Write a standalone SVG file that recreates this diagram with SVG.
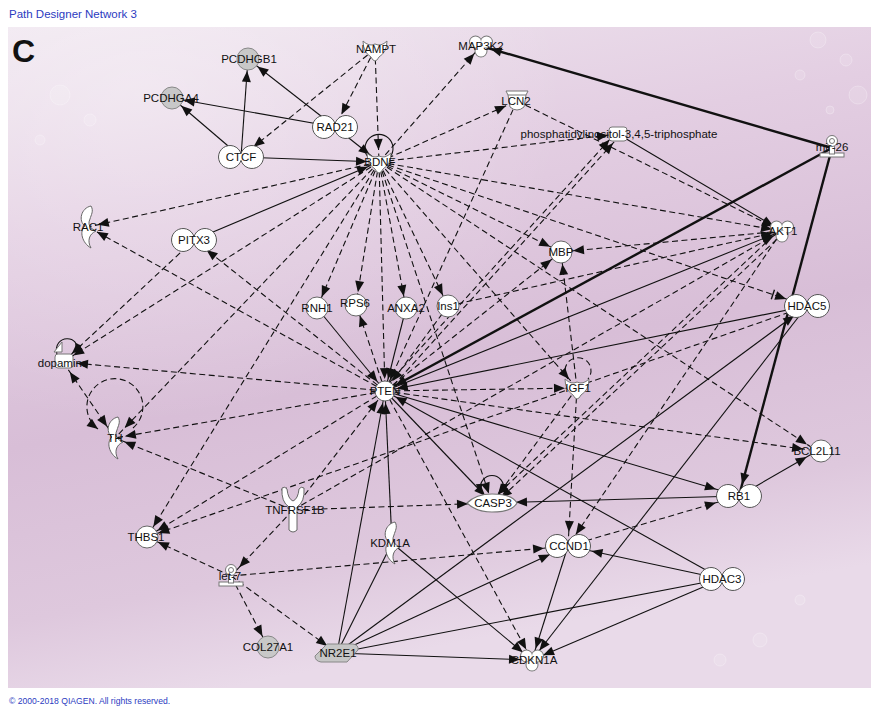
<svg xmlns="http://www.w3.org/2000/svg" width="871" height="706" viewBox="0 0 871 706">
<defs>
<linearGradient id="bg" x1="0" y1="0" x2="0.25" y2="1">
<stop offset="0" stop-color="#efe5ef"/>
<stop offset="0.3" stop-color="#e3cee2"/>
<stop offset="0.6" stop-color="#d8bed7"/>
<stop offset="0.85" stop-color="#dec8dd"/>
<stop offset="1" stop-color="#e9dae9"/>
</linearGradient>
<radialGradient id="glow" cx="0.15" cy="0.1" r="0.5">
<stop offset="0" stop-color="#ffffff" stop-opacity="0.35"/>
<stop offset="1" stop-color="#ffffff" stop-opacity="0"/>
</radialGradient>
<marker id="a0" markerUnits="userSpaceOnUse" markerWidth="11" markerHeight="9" refX="11" refY="4.5" orient="auto" overflow="visible"><path d="M0,0L11,4.5L0,9Z" fill="#111"/></marker>
<marker id="a8" markerUnits="userSpaceOnUse" markerWidth="11" markerHeight="9" refX="19" refY="4.5" orient="auto" overflow="visible"><path d="M0,0L11,4.5L0,9Z" fill="#111"/></marker>
<marker id="a10" markerUnits="userSpaceOnUse" markerWidth="11" markerHeight="9" refX="21" refY="4.5" orient="auto" overflow="visible"><path d="M0,0L11,4.5L0,9Z" fill="#111"/></marker>
<marker id="a12" markerUnits="userSpaceOnUse" markerWidth="11" markerHeight="9" refX="23" refY="4.5" orient="auto" overflow="visible"><path d="M0,0L11,4.5L0,9Z" fill="#111"/></marker>
<marker id="a14" markerUnits="userSpaceOnUse" markerWidth="11" markerHeight="9" refX="25" refY="4.5" orient="auto" overflow="visible"><path d="M0,0L11,4.5L0,9Z" fill="#111"/></marker>
<marker id="a16" markerUnits="userSpaceOnUse" markerWidth="11" markerHeight="9" refX="27" refY="4.5" orient="auto" overflow="visible"><path d="M0,0L11,4.5L0,9Z" fill="#111"/></marker>
<marker id="a20" markerUnits="userSpaceOnUse" markerWidth="11" markerHeight="9" refX="31" refY="4.5" orient="auto" overflow="visible"><path d="M0,0L11,4.5L0,9Z" fill="#111"/></marker>
<marker id="a24" markerUnits="userSpaceOnUse" markerWidth="11" markerHeight="9" refX="35" refY="4.5" orient="auto" overflow="visible"><path d="M0,0L11,4.5L0,9Z" fill="#111"/></marker>
<marker id="s12" markerUnits="userSpaceOnUse" markerWidth="11" markerHeight="9" refX="23" refY="4.5" orient="auto-start-reverse" overflow="visible"><path d="M0,0L11,4.5L0,9Z" fill="#111"/></marker>
<marker id="sm" markerUnits="userSpaceOnUse" markerWidth="8" markerHeight="7" refX="8" refY="3.5" orient="auto-start-reverse" overflow="visible"><path d="M0,0L8,3.5L0,7Z" fill="#111"/></marker>
<marker id="ab" markerUnits="userSpaceOnUse" markerWidth="11" markerHeight="9" refX="33" refY="4.5" orient="auto" overflow="visible"><path d="M0,0L11,4.5L0,9Z" fill="#111"/><path d="M-3,-0.5V9.5" stroke="#111" stroke-width="1.4"/></marker>

<circle id="circ" r="11" fill="#fff" stroke="#666" stroke-width="1"/>
<circle id="gcirc" r="11" fill="#c8c8c8" stroke="#888" stroke-width="1"/>
<circle id="phos" r="10" fill="#fff" stroke="#666" stroke-width="1"/>
<path id="tr" d="M0,-3.4A11.5,11.5 0 1 1 0,3.4A11.5,11.5 0 1 1 0,-3.4Z" fill="#fff" stroke="#555" stroke-width="1"/>
<g id="kin"><g fill="#fff" stroke="#777" stroke-width="2"><circle cx="-5.5" cy="-4" r="5.5"/><circle cx="5.5" cy="-4" r="5.5"/><circle cx="0" cy="5" r="5.5"/></g><g fill="#fff"><circle cx="-5.5" cy="-4" r="5.5"/><circle cx="5.5" cy="-4" r="5.5"/><circle cx="0" cy="5" r="5.5"/></g></g>
<path id="gf" d="M-12,-9Q-6,-3 0,-6Q6,-3 12,-9Q12,2 4,7Q2,11 0,11Q-2,11 -4,7Q-12,2 -12,-9Z" fill="#fff" stroke="#777" stroke-width="1"/>
<path id="enz" d="M3,-21C-7,-19 -10,-6 -3,-1C-9,4 -6,16 3,21C-1,14 1,7 8,4C3,2 -1,-2 2,-8C3,-12 6,-16 3,-21Z" fill="#fff" stroke="#666" stroke-width="1"/>
<g id="trp" fill="#fff" stroke="#777" stroke-width="1"><path d="M-11,-10L11,-10L9,-6L7,6Q0,12 -7,6L-9,-6Z"/><path d="M-9,-6L9,-6" fill="none"/></g>
<rect id="chem" x="-9" y="-7" width="18" height="14" rx="3" fill="#fff" stroke="#777" stroke-width="1"/>
<g id="mir" fill="#fff" stroke="#777" stroke-width="1"><rect x="-12" y="6" width="24" height="4"/><rect x="-2.5" y="-2" width="5" height="9"/><circle cy="-6" r="5.5"/><circle cy="-6" r="2.5"/></g>
<path id="rec" d="M-11,-22Q-12,-8 -4,-3L-4,20Q0,24 4,20L4,-3Q12,-8 11,-22Q8,-24 6,-21Q5,-11 0,-9Q-5,-11 -6,-21Q-8,-24 -11,-22Z" fill="#fff" stroke="#666" stroke-width="1"/>
<path id="pep" d="M-25,0Q-16,-9 0,-9Q20,-9 25,0Q20,9 0,9Q-16,9 -25,0Z" fill="#fff" stroke="#777" stroke-width="1.2"/>
<path id="nr" d="M-22,3L-10,-9L16,-9Q22,-8 21,-3L10,9L-16,9Q-22,8 -22,3Z" fill="#c6c6c6" stroke="#888" stroke-width="1"/>
</defs>
<style>
.s{stroke:#111;stroke-width:1.1;fill:none}
.d{stroke:#111;stroke-width:1.1;stroke-dasharray:6 3.5;fill:none}
.b{stroke:#111;stroke-width:2.4;fill:none}
.lb{font-family:"Liberation Sans",Arial,sans-serif;font-size:11.5px;fill:#111;text-anchor:middle}
.hd{font-family:"Liberation Sans",Arial,sans-serif;fill:#2b3bbf}
</style>

<rect x="0" y="0" width="871" height="706" fill="#fff"/>
<rect x="8" y="27" width="863" height="661" fill="url(#bg)"/>
<rect x="8" y="27" width="863" height="661" fill="url(#glow)"/>
<g fill="#fff" fill-opacity="0.12" stroke="#fff" stroke-opacity="0.25">
<circle cx="818" cy="40" r="8"/><circle cx="846" cy="60" r="6"/><circle cx="800" cy="75" r="5"/><circle cx="858" cy="95" r="9"/><circle cx="830" cy="110" r="4"/><circle cx="60" cy="95" r="10"/><circle cx="90" cy="120" r="6"/><circle cx="40" cy="140" r="5"/><circle cx="760" cy="640" r="7"/><circle cx="800" cy="600" r="5"/><circle cx="720" cy="660" r="6"/>
</g>

<text class="hd" x="9" y="18" font-size="11.5">Path Designer Network 3</text>
<text x="12" y="62" font-family="Liberation Sans,Arial,sans-serif" font-size="32" font-weight="bold" fill="#111">C</text>
<text class="hd" x="9" y="704" font-size="8.6">© 2000-2018 QIAGEN. All rights reserved.</text>

<g id="connectors">
<line class="s" x1="335" y1="127" x2="248" y2="59" marker-end="url(#a12)"/>
<line class="s" x1="241" y1="157" x2="248" y2="59" marker-end="url(#a12)"/>
<line class="s" x1="241" y1="157" x2="172" y2="98" marker-end="url(#a12)"/>
<line class="s" x1="335" y1="127" x2="172" y2="98" marker-end="url(#a12)"/>
<line class="d" x1="375" y1="49" x2="241" y2="157" marker-end="url(#a16)"/>
<line class="d" x1="375" y1="49" x2="335" y2="127" marker-end="url(#a14)"/>
<line class="d" x1="375" y1="49" x2="379" y2="162" marker-end="url(#a12)"/>
<line class="s" x1="335" y1="127" x2="379" y2="162" marker-end="url(#a12)"/>
<line class="s" x1="241" y1="157" x2="379" y2="162" marker-end="url(#a12)"/>
<line class="s" x1="194" y1="240" x2="379" y2="162" marker-end="url(#a12)"/>
<line class="d" x1="379" y1="162" x2="481" y2="46" marker-end="url(#a10)"/>
<line class="d" x1="379" y1="162" x2="517" y2="101" marker-end="url(#a12)"/>
<line class="d" x1="379" y1="162" x2="618" y2="134" marker-end="url(#a10)"/>
<line class="b" x1="832" y1="148" x2="481" y2="46" marker-end="url(#a10)"/>
<line class="b" x1="832" y1="148" x2="385" y2="391" marker-end="url(#a12)"/>
<line class="b" x1="832" y1="148" x2="739" y2="496" marker-end="url(#a12)"/>
<line class="d" x1="517" y1="101" x2="782" y2="231" marker-end="url(#a10)"/>
<line class="s" x1="618" y1="134" x2="782" y2="231" marker-end="url(#a10)"/>
<line class="d" x1="383.2" y1="389.3" x2="616.2" y2="132.3" marker-end="url(#a10)"/>
<line class="d" x1="386.8" y1="392.7" x2="619.8" y2="135.7" marker-end="url(#a10)"/>
<line class="d" x1="517" y1="101" x2="385" y2="391" marker-end="url(#a12)"/>
<line class="d" x1="379" y1="162" x2="88" y2="227" marker-end="url(#a10)"/>
<line class="d" x1="379" y1="162" x2="63" y2="362" marker-end="url(#a12)"/>
<line class="d" x1="194" y1="240" x2="63" y2="362" marker-end="url(#a12)"/>
<line class="d" x1="379" y1="162" x2="115" y2="438" marker-end="url(#a14)"/>
<line class="d" x1="379" y1="162" x2="317" y2="308" marker-end="url(#a12)"/>
<line class="d" x1="379" y1="162" x2="356" y2="304" marker-end="url(#a12)"/>
<line class="d" x1="379" y1="162" x2="406" y2="308" marker-end="url(#a12)"/>
<line class="d" x1="379" y1="162" x2="448" y2="306" marker-end="url(#a12)"/>
<line class="d" x1="379" y1="162" x2="385" y2="391" marker-end="url(#a12)"/>
<line class="d" x1="379" y1="162" x2="561" y2="252" marker-end="url(#a12)"/>
<line class="d" x1="379" y1="162" x2="782" y2="231" marker-end="url(#a10)"/>
<line class="d" x1="379" y1="162" x2="807" y2="306" marker-end="url(#ab)"/>
<line class="d" x1="379" y1="162" x2="817" y2="451" marker-end="url(#a12)"/>
<line class="d" x1="379" y1="162" x2="577" y2="388" marker-end="url(#a12)"/>
<line class="d" x1="379" y1="162" x2="492" y2="503" marker-end="url(#a10)"/>
<line class="d" x1="379" y1="162" x2="147" y2="537" marker-end="url(#a12)"/>
<line class="d" x1="385" y1="391" x2="577" y2="388" marker-end="url(#a12)"/>
<line class="d" x1="385" y1="391" x2="63" y2="362" marker-end="url(#a14)"/>
<line class="d" x1="385" y1="391" x2="115" y2="438" marker-end="url(#a10)"/>
<line class="d" x1="385" y1="391" x2="88" y2="227" marker-end="url(#a10)"/>
<line class="d" x1="385" y1="391" x2="194" y2="240" marker-end="url(#a16)"/>
<line class="d" x1="385" y1="391" x2="147" y2="537" marker-end="url(#a12)"/>
<line class="d" x1="385" y1="391" x2="356" y2="304" marker-end="url(#a12)"/>
<line class="s" x1="317" y1="308" x2="385" y2="391" marker-end="url(#a12)"/>
<line class="s" x1="406" y1="308" x2="385" y2="391" marker-end="url(#a12)"/>
<line class="d" x1="448" y1="306" x2="385" y2="391" marker-end="url(#a12)"/>
<line class="s" x1="807" y1="306" x2="385" y2="391" marker-end="url(#a12)"/>
<line class="s" x1="722" y1="579" x2="385" y2="391" marker-end="url(#a12)"/>
<line class="s" x1="337" y1="653" x2="385" y2="391" marker-end="url(#a12)"/>
<line class="s" x1="392" y1="543" x2="385" y2="391" marker-end="url(#a12)"/>
<line class="d" x1="293" y1="510" x2="385" y2="391" marker-end="url(#a12)"/>
<line class="s" x1="385" y1="391" x2="492" y2="503" marker-end="url(#a10)"/>
<line class="d" x1="385" y1="391" x2="532" y2="660" marker-end="url(#a12)"/>
<line class="s" x1="385" y1="391" x2="739" y2="496" marker-end="url(#a24)"/>
<line class="s" x1="385" y1="391" x2="782" y2="231" marker-end="url(#a10)"/>
<line class="d" x1="385" y1="391" x2="561" y2="252" marker-end="url(#a12)"/>
<line class="d" x1="385" y1="391" x2="817" y2="451" marker-end="url(#a14)"/>
<line class="d" x1="448" y1="306" x2="782" y2="231" marker-end="url(#a10)"/>
<line class="d" x1="293" y1="510" x2="782" y2="231" marker-end="url(#a10)"/>
<line class="d" x1="782" y1="231" x2="561" y2="252" marker-end="url(#a12)"/>
<line class="d" x1="780.3" y1="229.2" x2="490.3" y2="501.2" marker-end="url(#a10)"/>
<line class="d" x1="783.7" y1="232.8" x2="493.7" y2="504.8" marker-end="url(#a10)"/>
<line class="d" x1="782" y1="231" x2="568" y2="546" marker-end="url(#a14)"/>
<line class="d" x1="577" y1="388" x2="561" y2="252" marker-end="url(#a12)"/>
<line class="d" x1="577" y1="388" x2="568" y2="546" marker-end="url(#a14)"/>
<line class="d" x1="577" y1="388" x2="492" y2="503" marker-end="url(#a10)"/>
<line class="d" x1="293" y1="510" x2="492" y2="503" marker-end="url(#a24)"/>
<line class="d" x1="293" y1="510" x2="231" y2="576" marker-end="url(#a12)"/>
<line class="d" x1="293" y1="510" x2="115" y2="438" marker-end="url(#a10)"/>
<line class="d" x1="231" y1="576" x2="147" y2="537" marker-end="url(#a12)"/>
<line class="d" x1="231" y1="576" x2="568" y2="546" marker-end="url(#a24)"/>
<line class="d" x1="231" y1="576" x2="268" y2="647" marker-end="url(#a12)"/>
<line class="d" x1="231" y1="576" x2="337" y2="653" marker-end="url(#a12)"/>
<line class="d" x1="807" y1="306" x2="147" y2="537" marker-end="url(#a12)"/>
<line class="s" x1="337" y1="653" x2="392" y2="543"/>
<line class="s" x1="337" y1="653" x2="568" y2="546" marker-end="url(#a20)"/>
<line class="s" x1="337" y1="653" x2="532" y2="660" marker-end="url(#a12)"/>
<line class="s" x1="337" y1="653" x2="807" y2="306" marker-end="url(#a16)"/>
<line class="s" x1="337" y1="653" x2="722" y2="579"/>
<line class="s" x1="392" y1="543" x2="532" y2="660" marker-end="url(#a12)"/>
<line class="s" x1="568" y1="546" x2="532" y2="660" marker-end="url(#a12)"/>
<line class="s" x1="722" y1="579" x2="568" y2="546" marker-end="url(#a24)"/>
<line class="s" x1="722" y1="579" x2="532" y2="660" marker-end="url(#a12)"/>
<line class="s" x1="807" y1="306" x2="532" y2="660" marker-end="url(#a12)"/>
<line class="d" x1="568" y1="546" x2="739" y2="496" marker-end="url(#a24)"/>
<line class="s" x1="739" y1="496" x2="492" y2="503" marker-end="url(#a24)"/>
<line class="s" x1="739" y1="496" x2="817" y2="451" marker-end="url(#a12)"/>
<line class="d" x1="63" y1="362" x2="115" y2="438" marker-start="url(#s12)" marker-end="url(#a14)"/>
<path class="s" d="M368,157A14,14 0 1 1 390,157"/>
<path class="d" d="M568,379A13,13 0 1 1 588,379"/>
<path class="s" d="M480,492C478,470 506,470 504,492" marker-start="url(#sm)" marker-end="url(#sm)"/>
<path class="d" d="M133,428A28,28 0 1 0 98,429" marker-end="url(#a0)"/>
<path class="s" d="M57,354C52,334 82,334 76,352" marker-end="url(#sm)"/>
</g>

<g id="node-PCDHGB1"><use href="#gcirc" x="248" y="59"/><text class="lb" x="249" y="63">PCDHGB1</text></g>
<g id="node-PCDHGA4"><use href="#gcirc" x="172" y="98"/><text class="lb" x="171" y="102">PCDHGA4</text></g>
<g id="node-NAMPT"><use href="#gf" x="375" y="50"/><text class="lb" x="376" y="53">NAMPT</text></g>
<g id="node-MAP3K2"><use href="#kin" x="481" y="46"/><text class="lb" x="481" y="50">MAP3K2</text></g>
<g id="node-LCN2"><use href="#trp" x="517" y="101"/><text class="lb" x="516" y="105">LCN2</text></g>
<g id="node-RAD21"><use href="#tr" x="335" y="127"/><text class="lb" x="335" y="131">RAD21</text></g>
<g id="node-CTCF"><use href="#tr" x="241" y="157"/><text class="lb" x="241" y="161">CTCF</text></g>
<g id="node-BDNF"><use href="#gf" x="379" y="162"/><text class="lb" x="380" y="166">BDNF</text></g>
<g id="node-PIP3"><use href="#chem" x="618" y="134"/><text class="lb" x="619" y="138">phosphatidylinositol-3,4,5-triphosphate</text></g>
<g id="node-mir26"><use href="#mir" x="832" y="147"/><text class="lb" x="832" y="151">mir-26</text></g>
<g id="node-RAC1"><use href="#enz" x="88" y="227"/><text class="lb" x="88" y="231">RAC1</text></g>
<g id="node-PITX3"><use href="#tr" x="194" y="240"/><text class="lb" x="194" y="244">PITX3</text></g>
<g id="node-AKT1"><use href="#kin" x="782" y="231"/><text class="lb" x="783" y="235">AKT1</text></g>
<g id="node-MBP"><use href="#circ" x="561" y="252"/><text class="lb" x="561" y="256">MBP</text></g>
<g id="node-RNH1"><use href="#circ" x="317" y="308"/><text class="lb" x="317" y="312">RNH1</text></g>
<g id="node-RPS6"><use href="#circ" x="356" y="305"/><text class="lb" x="355" y="307">RPS6</text></g>
<g id="node-ANXA2"><use href="#circ" x="406" y="308"/><text class="lb" x="406" y="312">ANXA2</text></g>
<g id="node-Ins1"><use href="#circ" x="448" y="306"/><text class="lb" x="448" y="310">Ins1</text></g>
<g id="node-HDAC5"><use href="#tr" x="807" y="306"/><text class="lb" x="807" y="310">HDAC5</text></g>
<g id="node-dopamine"><use href="#chem" x="64" y="361"/><path d="M54,352L62,342L62,352Z" fill="#fff" stroke="#777"/><text class="lb" x="63" y="367">dopamine</text></g>
<g id="node-PTEN"><use href="#phos" x="385" y="391"/><text class="lb" x="385" y="395">PTEN</text></g>
<g id="node-IGF1"><use href="#gf" x="577" y="388"/><text class="lb" x="578" y="392">IGF1</text></g>
<g id="node-TH"><use href="#enz" x="115" y="438"/><text class="lb" x="115" y="442">TH</text></g>
<g id="node-BCL2L11"><use href="#circ" x="821" y="451"/><text class="lb" x="817" y="455">BCL2L11</text></g>
<g id="node-TNFRSF1B"><use href="#rec" x="293" y="510"/><text class="lb" x="295" y="514">TNFRSF1B</text></g>
<g id="node-CASP3"><use href="#pep" x="492" y="503"/><text class="lb" x="493" y="507">CASP3</text></g>
<g id="node-RB1"><use href="#tr" x="739" y="496"/><text class="lb" x="739" y="500">RB1</text></g>
<g id="node-THBS1"><use href="#circ" x="147" y="537"/><text class="lb" x="146" y="541">THBS1</text></g>
<g id="node-KDM1A"><use href="#enz" x="392" y="543"/><text class="lb" x="390" y="547">KDM1A</text></g>
<g id="node-CCND1"><use href="#tr" x="568" y="546"/><text class="lb" x="569" y="550">CCND1</text></g>
<g id="node-HDAC3"><use href="#tr" x="722" y="579"/><text class="lb" x="722" y="583">HDAC3</text></g>
<g id="node-let7"><use href="#mir" x="231" y="576"/><text class="lb" x="230" y="580">let-7</text></g>
<g id="node-COL27A1"><use href="#gcirc" x="268" y="647"/><text class="lb" x="268" y="651">COL27A1</text></g>
<g id="node-NR2E1"><use href="#nr" x="337" y="653"/><text class="lb" x="338" y="657">NR2E1</text></g>
<g id="node-CDKN1A"><use href="#kin" x="532" y="660"/><text class="lb" x="534" y="664">CDKN1A</text></g>
</svg>
